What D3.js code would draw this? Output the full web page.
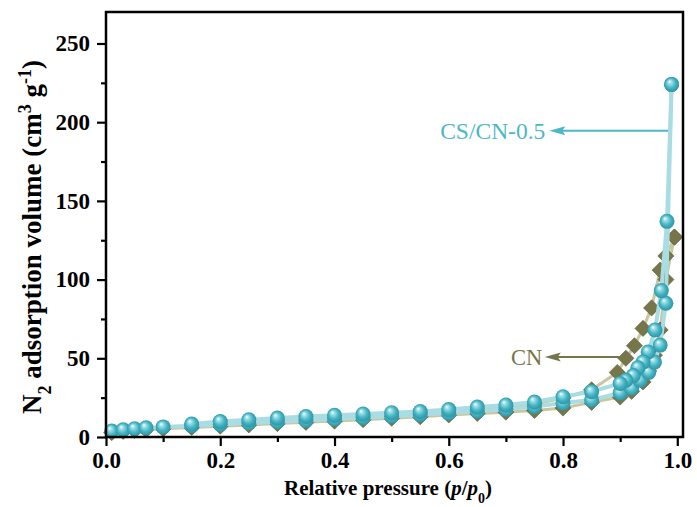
<!DOCTYPE html>
<html>
<head>
<meta charset="utf-8">
<script src="https://cdn.jsdelivr.net/npm/d3@7"></script>
<style>
  body { margin: 0; background: #fff; }
  svg { display: block; }
  text { font-family: "Liberation Serif", "Times New Roman", serif; }
</style>
</head>
<body>
<script>
// CS/CN-0.5 adsorption / desorption branches
const csAdsP = [0.01, 0.03, 0.05, 0.07, 0.10, 0.15, 0.20, 0.25, 0.30, 0.35, 0.40, 0.45, 0.50, 0.55, 0.60, 0.65, 0.70, 0.75, 0.80, 0.85, 0.90, 0.92, 0.935, 0.95, 0.96, 0.97, 0.98, 0.99];
const csAdsV = [3.8, 4.6, 5.2, 5.8, 6.4, 7.2, 8.0, 8.9, 9.7, 10.5, 11.4, 12.3, 13.2, 14.2, 15.2, 16.3, 17.6, 19.3, 21.6, 23.5, 28, 31, 36, 41, 47.6, 58.4, 85, 224];
const csDesP = [0.99, 0.982, 0.972, 0.961, 0.949, 0.94, 0.931, 0.923, 0.91, 0.90, 0.85, 0.80, 0.75, 0.70, 0.65, 0.60, 0.55, 0.50, 0.45, 0.40, 0.35, 0.30, 0.25, 0.20, 0.15];
const csDesV = [224, 137, 93, 68, 54, 47.6, 44, 39, 36, 34, 28.8, 25.6, 22.2, 20.3, 19.0, 17.4, 16.2, 15.4, 14.6, 13.8, 13.0, 12.0, 11.0, 9.8, 8.2];

// CN adsorption / desorption branches
const cnAdsP = [0.01, 0.03, 0.05, 0.07, 0.10, 0.15, 0.20, 0.25, 0.30, 0.35, 0.40, 0.45, 0.50, 0.55, 0.60, 0.65, 0.70, 0.75, 0.80, 0.85, 0.90, 0.92, 0.94, 0.95, 0.96, 0.97, 0.98, 0.995];
const cnAdsV = [2.8, 3.6, 4.2, 4.7, 5.3, 6.1, 6.9, 7.7, 8.5, 9.3, 10.1, 11.0, 11.9, 12.9, 14.0, 15.0, 15.8, 16.8, 18.4, 22, 25.4, 29, 35, 42, 52, 68, 100, 127];
const cnDesP = [0.995, 0.98, 0.97, 0.955, 0.94, 0.925, 0.91, 0.895, 0.85, 0.80, 0.75, 0.70, 0.65, 0.60, 0.55, 0.50, 0.45, 0.40, 0.35, 0.30, 0.25, 0.20, 0.15];
const cnDesV = [127, 115, 106, 82, 69, 58, 50, 41, 30, 24.8, 21, 19, 17.5, 16, 14.8, 13.8, 12.9, 12.0, 11.2, 10.3, 9.5, 8.6, 7.6];

const xMajor = [0, 0.2, 0.4, 0.6, 0.8, 1.0];
const xMinor = [0.1, 0.3, 0.5, 0.7, 0.9];
const yMajor = [0, 50, 100, 150, 200, 250];
const yMinor = [25, 75, 125, 175, 225];

const cyan = "#4bb8c7", olive = "#77764b";

const margin = {top: 12, right: 14, bottom: 70, left: 106},
  width = 697 - margin.left - margin.right,
  height = 507 - margin.top - margin.bottom;

const x = d3.scaleLinear().domain([0, 1.01]).range([0, width]);
const y = d3.scaleLinear().domain([0, 270]).range([height, 0]);

const root = d3.select("body").append("svg")
    .attr("width", 697)
    .attr("height", 507);

const defs = root.append("defs");
const grad = defs.append("radialGradient")
    .attr("id", "ball")
    .attr("cx", "50%").attr("cy", "50%").attr("r", "55%")
    .attr("fx", "35%").attr("fy", "30%");
grad.append("stop").attr("offset", "0%").attr("stop-color", "#ffffff");
grad.append("stop").attr("offset", "22%").attr("stop-color", "#9ee0e8");
grad.append("stop").attr("offset", "60%").attr("stop-color", "#45b4c4");
grad.append("stop").attr("offset", "100%").attr("stop-color", "#2a8e9c");

const svg = root.append("g")
    .attr("transform", "translate(" + margin.left + "," + margin.top + ")");

function pts(ps, vs) { return ps.map((p, i) => ({p: p, v: vs[i]})); }

const line = d3.line()
    .x(d => x(d.p))
    .y(d => y(d.v));

// CN
[pts(cnAdsP, cnAdsV), pts(cnDesP, cnDesV)].forEach(function(data) {
  svg.append("path")
      .datum(data)
      .attr("d", line)
      .style("fill", "none")
      .style("stroke", "#c9c7a2")
      .style("stroke-width", 3);
});
[pts(cnAdsP, cnAdsV), pts(cnDesP, cnDesV)].forEach(function(data) {
  svg.append("g").selectAll("path")
      .data(data)
    .enter().append("path")
      .attr("d", d3.symbol(d3.symbolSquare, 130))
      .attr("transform", d => "translate(" + x(d.p) + "," + y(d.v) + ") rotate(45)")
      .style("fill", olive)
      .style("stroke", "#5e5d38")
      .style("stroke-width", 0.6);
});

// CS/CN-0.5
[pts(csAdsP, csAdsV), pts(csDesP, csDesV)].forEach(function(data) {
  svg.append("path")
      .datum(data)
      .attr("d", line)
      .style("fill", "none")
      .style("stroke", "#a9dde3")
      .style("stroke-width", 4);
});
[pts(csAdsP, csAdsV), pts(csDesP, csDesV)].forEach(function(data) {
  svg.append("g").selectAll("circle")
      .data(data)
    .enter().append("circle")
      .attr("cx", d => x(d.p))
      .attr("cy", d => y(d.v))
      .attr("r", 7.5)
      .style("fill", "url(#ball)");
});

// frame
svg.append("rect")
    .attr("width", width)
    .attr("height", height)
    .style("fill", "none")
    .style("stroke", "#000")
    .style("stroke-width", 2.5);

// axes
svg.append("g")
    .attr("transform", "translate(0," + height + ")")
    .call(d3.axisBottom(x).tickValues(xMajor).tickFormat(d3.format(".1f")).tickSize(9).tickPadding(6));
svg.append("g")
    .attr("transform", "translate(0," + height + ")")
    .call(d3.axisBottom(x).tickValues(xMinor).tickFormat("").tickSize(5));
svg.append("g")
    .call(d3.axisLeft(y).tickValues(yMajor).tickSize(9).tickPadding(7));
svg.append("g")
    .call(d3.axisLeft(y).tickValues(yMinor).tickFormat("").tickSize(5));

svg.selectAll(".domain").remove();
svg.selectAll(".tick line").style("stroke", "#000").style("stroke-width", 2.2);
svg.selectAll(".tick text")
    .style("font-family", "'Liberation Serif', 'Times New Roman', serif")
    .style("font-weight", "bold")
    .style("font-size", "23px")
    .style("fill", "#000");

// axis titles
const xt = root.append("text")
    .attr("x", 388)
    .attr("y", 495)
    .attr("text-anchor", "middle")
    .style("font-weight", "bold")
    .style("font-size", "21px");
xt.append("tspan").text("Relative pressure (");
xt.append("tspan").style("font-style", "italic").text("p");
xt.append("tspan").text("/");
xt.append("tspan").style("font-style", "italic").text("p");
xt.append("tspan").attr("baseline-shift", "sub").style("font-size", "14px").text("0");
xt.append("tspan").text(")");

const yt = root.append("text")
    .attr("transform", "translate(41,237) rotate(-90)")
    .attr("text-anchor", "middle")
    .style("font-weight", "bold")
    .style("font-size", "27px");
yt.append("tspan").text("N");
yt.append("tspan").attr("baseline-shift", "sub").style("font-size", "18px").text("2");
yt.append("tspan").text(" adsorption volume (cm");
yt.append("tspan").attr("baseline-shift", "super").style("font-size", "18px").text("3");
yt.append("tspan").text(" g");
yt.append("tspan").attr("baseline-shift", "super").style("font-size", "18px").text("-1");
yt.append("tspan").text(")");

// annotations
function arrow(p0, p1, v, color) {
  const x0 = x(p0), x1 = x(p1), yy = y(v);
  svg.append("line")
      .attr("x1", x0 + 10).attr("x2", x1)
      .attr("y1", yy).attr("y2", yy)
      .style("stroke", color)
      .style("stroke-width", 2);
  svg.append("path")
      .attr("d", "M" + x0 + "," + yy + "L" + (x0 + 16) + "," + (yy - 4.5) + "L" + (x0 + 13) + "," + yy + "L" + (x0 + 16) + "," + (yy + 4.5) + "Z")
      .style("fill", color);
}
arrow(0.776, 0.984, 194.6, cyan);
svg.append("text")
    .attr("x", x(0.585))
    .attr("y", y(194.6) + 8.5)
    .style("font-size", "23.5px")
    .style("fill", cyan)
    .text("CS/CN-0.5");

arrow(0.768, 0.914, 50.8, olive);
svg.append("text")
    .attr("x", x(0.709))
    .attr("y", y(50.8) + 8)
    .style("font-size", "22.5px")
    .style("fill", olive)
    .text("CN");
</script>
</body>
</html>
